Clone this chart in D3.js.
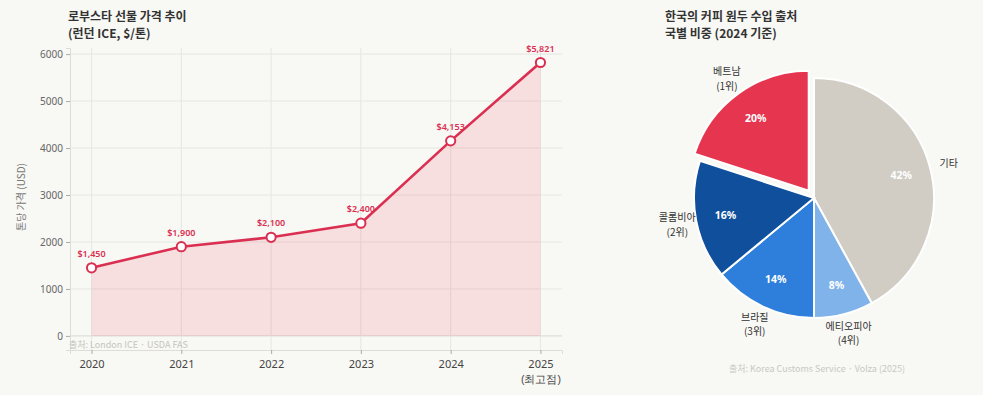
<!DOCTYPE html>
<html>
<head>
<meta charset="utf-8">
<script src="https://cdn.jsdelivr.net/npm/d3@7"></script>
<style>
  html, body { margin: 0; padding: 0; background: #f8f8f4; }
  svg { display: block; font-family: "Noto Sans CJK KR", "Noto Sans", sans-serif; }
</style>
</head>
<body>
<svg id="chart" width="983" height="395"></svg>
<script>
// Robusta futures price (London ICE, USD per tonne)
const years = ["2020", "2021", "2022", "2023", "2024", "2025"];
const prices = [1450, 1900, 2100, 2400, 4153, 5821];
const priceLabels = ["$1,450", "$1,900", "$2,100", "$2,400", "$4,153", "$5,821"];
const yTicks = [0, 1000, 2000, 3000, 4000, 5000, 6000];

// Korea green coffee import share by origin (2024)
const origins = ["기타", "에티오피아", "브라질", "콜롬비아", "베트남"];
const ranks = ["", "(4위)", "(3위)", "(2위)", "(1위)"];
const shares = [42, 8, 14, 16, 20];
const sliceColors = ["#d1cdc5", "#80b3ea", "#2e7fdc", "#0f4f9c", "#e6354f"];

const svg = d3.select("#chart");
const red = "#db2f52";

function title(xPos, lines) {
  const t = svg.append("text").attr("x", xPos).attr("y", 21)
    .attr("font-size", 12).attr("font-weight", 700).attr("fill", "#333");
  lines.forEach((s, i) => t.append("tspan").attr("x", xPos).attr("dy", i ? 17 : 0).text(s));
}

// ---------- line chart ----------
const plot = { left: 70, right: 562, top: 48, bottom: 350 };

const x = d3.scalePoint().domain(years).range([plot.left, plot.right]).padding(0.24);
const y = d3.scaleLinear().domain([-300, 6130]).range([plot.bottom, plot.top]);

title(68, ["로부스타 선물 가격 추이", "(런던 ICE, $/톤)"]);

const grid = svg.append("g");
grid.selectAll(".hg").data(yTicks).join("line")
  .attr("x1", plot.left).attr("x2", plot.right)
  .attr("y1", d => y(d)).attr("y2", d => y(d))
  .attr("stroke", d => d === 0 ? "#d8d8d4" : "#e6e6e2").attr("stroke-width", 1);
grid.selectAll(".vg").data(years).join("line")
  .attr("x1", d => x(d)).attr("x2", d => x(d))
  .attr("y1", plot.top).attr("y2", plot.bottom)
  .attr("stroke", "#e6e6e2").attr("stroke-width", 1);

// filled area under the price line
const series = years.map((yr, i) => ({ yr, v: prices[i], label: priceLabels[i] }));
svg.append("path").datum(series)
  .attr("fill", "rgba(230,53,79,0.13)")
  .attr("d", d3.area().x(d => x(d.yr)).y0(y(0)).y1(d => y(d.v)));

// axes
const yAxis = svg.append("g").attr("transform", `translate(${plot.left},0)`)
  .call(d3.axisLeft(y).tickValues(yTicks).tickFormat(d3.format("d")).tickSize(4).tickPadding(3));
yAxis.select(".domain").attr("stroke", "#dcdcd8");
yAxis.selectAll(".tick line").attr("stroke", "#aaa");
yAxis.selectAll(".tick text").attr("fill", "#666").attr("font-size", 10)
  .attr("font-family", "'Noto Sans', sans-serif");

const xAxis = svg.append("g").attr("transform", `translate(0,${plot.bottom})`)
  .call(d3.axisBottom(x).tickSize(4).tickPadding(6));
xAxis.select(".domain").attr("stroke", "#dcdcd8");
xAxis.selectAll(".tick line").attr("stroke", "#aaa");
xAxis.selectAll(".tick text").attr("fill", "#444").attr("font-size", 11)
  .attr("font-family", "'Noto Sans', sans-serif");
xAxis.selectAll(".tick").filter(d => d === "2025").append("text")
  .attr("y", 26).attr("dy", "0.71em").attr("text-anchor", "middle")
  .attr("fill", "#444").attr("font-size", 10.5).text("(최고점)");

svg.append("text")
  .attr("transform", `translate(25,${(y(0) + y(6000)) / 2 + 2}) rotate(-90)`)
  .attr("text-anchor", "middle").attr("font-size", 10).attr("fill", "#777")
  .text("톤당 가격 (USD)");

// price line with hollow markers
svg.append("path").datum(series)
  .attr("fill", "none").attr("stroke", red).attr("stroke-width", 2.6)
  .attr("d", d3.line().x(d => x(d.yr)).y(d => y(d.v)));
svg.selectAll(".pt").data(series).join("circle")
  .attr("cx", d => x(d.yr)).attr("cy", d => y(d.v)).attr("r", 4.6)
  .attr("fill", "#fff").attr("stroke", red).attr("stroke-width", 2);
svg.selectAll(".pl").data(series).join("text")
  .attr("x", d => x(d.yr)).attr("y", d => y(d.v) - 11)
  .attr("text-anchor", "middle").attr("font-size", 9).attr("font-weight", 600)
  .attr("fill", red).attr("font-family", "'Noto Sans', sans-serif")
  .text(d => d.label);

svg.append("text").attr("x", 69).attr("y", 348)
  .attr("font-size", 9).attr("fill", "#c4c4c0")
  .text("출처: London ICE · USDA FAS");

// ---------- pie chart ----------
title(665, ["한국의 커피 원두 수입 출처", "국별 비중 (2024 기준)"]);

const cx = 814, cy = 198, r = 120;
const pull = 9;
const slices = d3.pie().sort(null).value(d => d.v)
  (origins.map((name, i) => ({ name, rank: ranks[i], v: shares[i], color: sliceColors[i], pulled: i === 4 })));

const arc = d3.arc().innerRadius(0).outerRadius(r);
const inner = d3.arc().innerRadius(r * 0.75).outerRadius(r * 0.75);
const outer = d3.arc().innerRadius(r * 1.16).outerRadius(r * 1.16);
const shift = d => {
  if (!d.data.pulled) return [0, 0];
  const a = (d.startAngle + d.endAngle) / 2;
  return [Math.sin(a) * pull, -Math.cos(a) * pull];
};

const pie = svg.append("g").attr("transform", `translate(${cx},${cy})`);
const sl = pie.selectAll(".slice").data(slices).join("g")
  .attr("transform", d => `translate(${shift(d)})`);
sl.append("path").attr("d", arc).attr("fill", d => d.data.color)
  .attr("stroke", "#fff").attr("stroke-width", 2);
sl.append("text")
  .attr("transform", d => `translate(${inner.centroid(d)})`)
  .attr("text-anchor", "middle").attr("dy", "0.35em")
  .attr("font-size", 10.5).attr("font-weight", 700).attr("fill", "#fff")
  .attr("font-family", "'Noto Sans', sans-serif")
  .text(d => d.data.v + "%");
const ol = sl.append("text")
  .attr("transform", d => `translate(${outer.centroid(d)})`)
  .attr("text-anchor", "middle").attr("font-size", 10).attr("fill", "#333");
ol.append("tspan").attr("x", 0).attr("dy", d => d.data.rank ? "-0.3em" : "0.35em")
  .text(d => d.data.name);
ol.filter(d => d.data.rank).append("tspan").attr("x", 0).attr("dy", "1.45em")
  .text(d => d.data.rank);

svg.append("text").attr("x", 817).attr("y", 372).attr("text-anchor", "middle")
  .attr("font-size", 9).attr("fill", "#c8c8c4")
  .text("출처: Korea Customs Service · Volza (2025)");
</script>
</body>
</html>
